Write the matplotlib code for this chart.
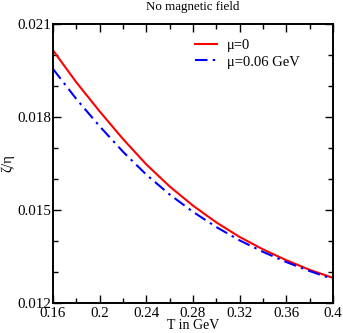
import matplotlib
matplotlib.use("Agg")
import matplotlib.pyplot as plt
from matplotlib.ticker import MultipleLocator

T = [0.16, 0.18, 0.20, 0.22, 0.24, 0.26, 0.28, 0.30, 0.32, 0.34, 0.36, 0.38, 0.40]
zeta_mu0 = [0.02015, 0.01912, 0.01818, 0.01729, 0.01647, 0.01576, 0.01514,
            0.01460, 0.01413, 0.01373, 0.01338, 0.01307, 0.01281]
zeta_mu006 = [0.01955, 0.01858, 0.01770, 0.01688, 0.01614, 0.01550, 0.01494,
              0.01445, 0.01402, 0.01365, 0.01332, 0.01303, 0.01277]
xticks = [0.16, 0.2, 0.24, 0.28, 0.32, 0.36, 0.4]
xticklabels = ["0.16", "0.2", "0.24", "0.28", "0.32", "0.36", "0.4"]
yticks = [0.012, 0.015, 0.018, 0.021]
yticklabels = ["0.012", "0.015", "0.018", "0.021"]

plt.rcParams['font.family'] = ['Liberation Serif', 'DejaVu Serif']

fig = plt.figure(figsize=(3.43, 3.33), dpi=100)
ax = fig.add_axes([53/343, 1-303/333, 280/343, 279/333])

ax.plot(T, zeta_mu0, color='#ff0000', lw=1.5, label='μ=0')
ax.plot(T, zeta_mu006, color='#0000ff', lw=1.5, dashes=(6, 2.5, 1.2, 2.5),
        label='μ=0.06 GeV')

ax.set_xlim(0.16, 0.4)
ax.set_ylim(0.012, 0.021)
ax.set_xticks(xticks)
ax.set_xticklabels(xticklabels, fontsize=10.8)
ax.set_yticks(yticks)
ax.set_yticklabels(yticklabels, fontsize=10.8)
ax.xaxis.set_minor_locator(MultipleLocator(0.02))
ax.yaxis.set_minor_locator(MultipleLocator(0.001))
ax.tick_params(which='both', direction='in', top=True, right=True, width=1)
ax.tick_params(which='major', length=6)
ax.tick_params(axis='x', which='major', pad=3)
ax.tick_params(axis='y', which='major', pad=1.5)
ax.tick_params(which='minor', length=3.5)
for s in ax.spines.values():
    s.set_linewidth(1.4)

ax.set_xlabel('T in GeV', fontsize=10, labelpad=-1)
ax.set_ylabel('ζ/η', fontsize=10.5, labelpad=2)
ax.set_title('No magnetic field', fontsize=9.4, pad=10)

ax.legend(loc='upper left', bbox_to_anchor=(0.46, 0.995), frameon=False,
          fontsize=10.5, handlelength=1.5, handletextpad=0.7, labelspacing=0.25)

fig.savefig('out.png', dpi=100)
